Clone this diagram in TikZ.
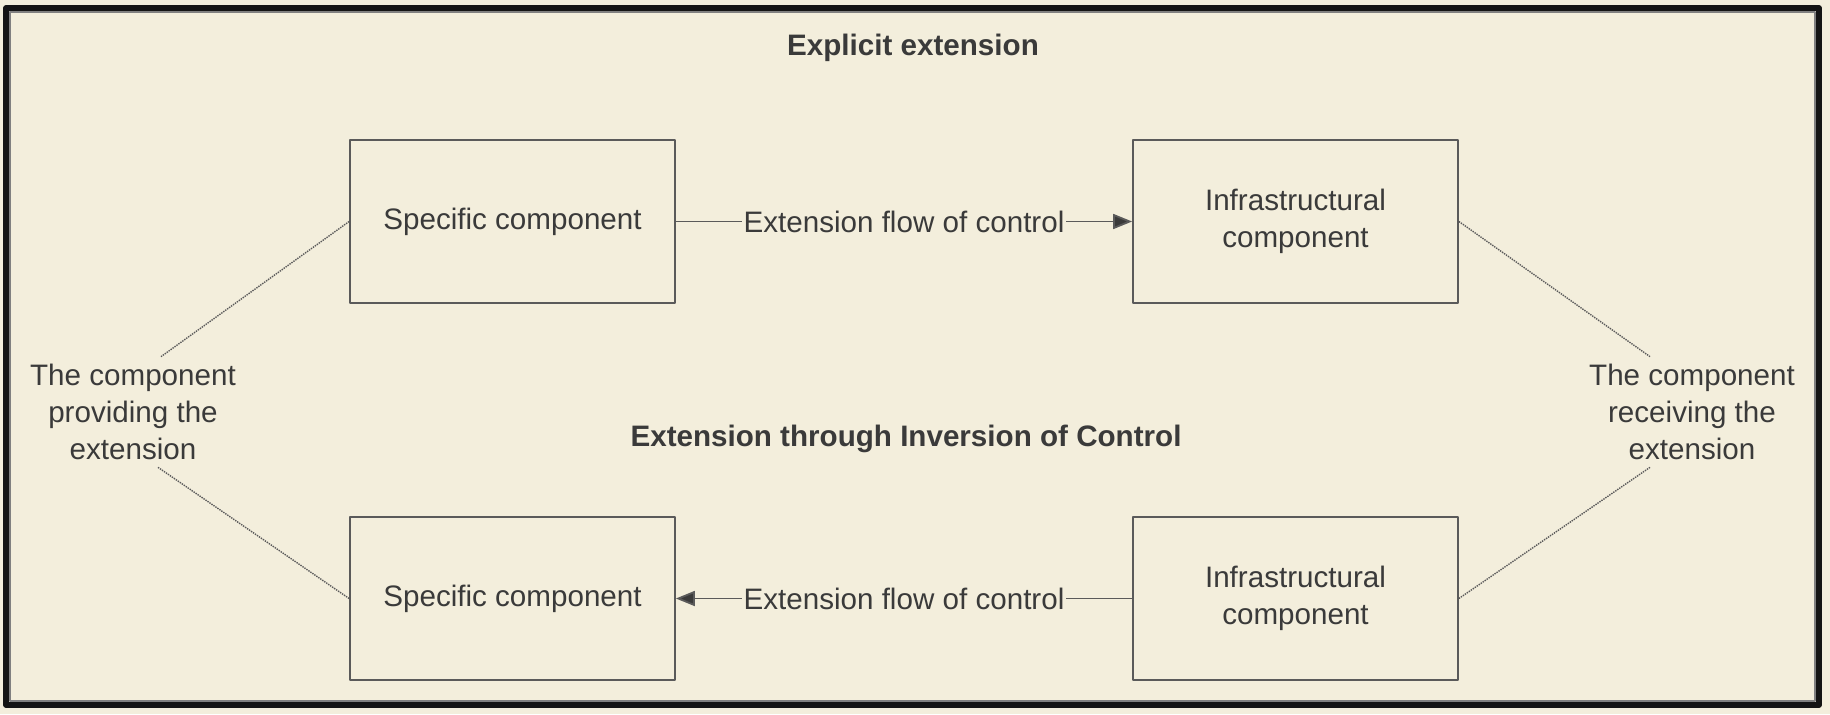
\documentclass[tikz,border=0pt]{standalone}
\usepackage{fontspec}
\setmainfont{Liberation Sans}
\usetikzlibrary{arrows.meta}
\definecolor{paper}{HTML}{F3EEDC}
\definecolor{ink}{HTML}{3A3A3A}
\definecolor{edge}{HTML}{5A5A5A}
\newcommand\diafont{\fontsize{14.8}{18.7}\selectfont}
\tikzset{
	comp/.style={draw=edge, line width=.9pt, minimum width=162.5pt, minimum height=81.5pt, align=center, text=ink, font=\diafont},
	heading/.style={font=\diafont\bfseries, text=ink},
	flowlbl/.style={fill=paper, inner sep=1pt, text=ink, font=\diafont},
	note/.style={align=center, text=ink, font=\diafont},
	dotline/.style={edge, line width=.7pt, dash pattern=on .7pt off .5pt},
}
\begin{document}
\begin{tikzpicture}[x=.5pt, y=.5pt, line join=round, >={Triangle[length=9.5pt,width=7.5pt,fill=ink]}]
	\fill[paper] (0,0) rectangle (1830,714);
	\useasboundingbox (0,0) rectangle (1830,714);
	% frame
	\draw[line width=2.6pt, black!92] (6,9) rectangle (1819,706);
	\draw[line width=1pt, black!50] (10,13) rectangle (1815,702);
	% headings
	\node[heading] (hexp) at (913,666) {Explicit extension};
	\node[heading] (hioc) at (906,275) {Extension through Inversion of Control};
	% components
	\node[comp] (sc1) at (512.5,492.5) {Specific component};
	\node[comp] (ic1) at (1295.5,492.5) {Infrastructural\\component};
	\node[comp] (sc2) at (512.5,115.5) {Specific component};
	\node[comp] (ic2) at (1295.5,115.5) {Infrastructural\\component};
	% side notes
	\node[note] (lprov) at (133,302) {The component\\providing the\\extension};
	\node[note] (rrec) at (1692,302) {The component\\receiving the\\extension};
	% flow of control
	\draw[edge, line width=.9pt, ->] (sc1) -- node[flowlbl] {Extension flow of control} (ic1);
	\draw[edge, line width=.9pt, ->] (ic2) -- node[flowlbl] {Extension flow of control} (sc2);
	% pointers
	\draw[dotline] (sc1.west) -- ([xshift=14pt]lprov.north);
	\draw[dotline] (sc2.west) -- ([xshift=12.5pt]lprov.south);
	\draw[dotline] (ic1.east) -- ([xshift=-21pt]rrec.north);
	\draw[dotline] (ic2.east) -- ([xshift=-21pt]rrec.south);
\end{tikzpicture}
\end{document}
